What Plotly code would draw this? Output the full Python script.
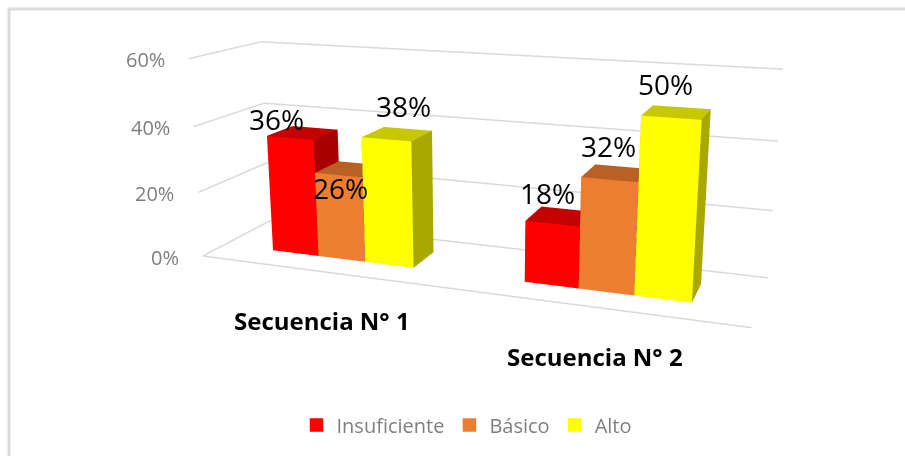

import plotly.graph_objects as go

categories = ["Secuencia N° 1", "Secuencia N° 2"]
series_names = ["Insuficiente", "Básico", "Alto"]
insuficiente = [0.36, 0.18]
basico = [0.26, 0.32]
alto = [0.38, 0.50]
z_ticks = [0, 0.2, 0.4, 0.6]

series_values = [insuficiente, basico, alto]
front = ["#ff0000", "#ed7d31", "#ffff00"]
top = ["#c40000", "#b96024", "#c8c800"]
side = ["#a80000", "#a05020", "#a8a800"]

BAR_W, Y0, Y1 = 0.193, 0.3095, 0.6973
# oversized canvas gives the long lens of the original; the page crops it to 905x456
LW, LH, TOP = 965, 898, 263
def px(x): return x / LW
def py(y): return 1 - (y + TOP) / LH

fig = go.Figure()

# gridlines on the left and back walls, and the front floor edge
gx, gy, gz = [], [], []
for t in z_ticks:
    gx += [0, 0, 2, None]; gy += [0, 1, 1, None]; gz += [t, t, t, None]
gx += [0, 2]; gy += [0, 0]; gz += [0, 0]
fig.add_trace(go.Scatter3d(x=gx, y=gy, z=gz, mode="lines", showlegend=False, hoverinfo="skip",
                           line=dict(color="#d9d9d9", width=3)))

for s, (name, vals) in enumerate(zip(series_names, series_values)):
    xs, ys, zs, I, J, K, fc = [], [], [], [], [], [], []
    for c, v in enumerate(vals):
        x0 = c + 0.5 + (s - 1.5) * BAR_W
        x1 = x0 + BAR_W
        n = len(xs)
        for zz in (0, v):
            for yy, xa, xb in ((Y0, x0, x1), (Y1, x1, x0)):
                xs += [xa, xb]; ys += [yy, yy]; zs += [zz, zz]
        faces = [((0, 1, 5), front[s]), ((0, 5, 4), front[s]),
                 ((1, 2, 6), side[s]), ((1, 6, 5), side[s]),
                 ((4, 5, 6), top[s]), ((4, 6, 7), top[s]),
                 ((3, 0, 4), side[s]), ((3, 4, 7), side[s]),
                 ((2, 3, 7), side[s]), ((2, 7, 6), side[s])]
        for (a, b, d), col in faces:
            I.append(n + a); J.append(n + b); K.append(n + d); fc.append(col)
    fig.add_trace(go.Mesh3d(
        x=xs, y=ys, z=zs, i=I, j=J, k=K, facecolor=fc, flatshading=True,
        lighting=dict(ambient=1, diffuse=0, specular=0, fresnel=0, roughness=1),
        hoverinfo="skip", name=name, showlegend=False))
    fig.add_trace(go.Scatter3d(
        x=[None], y=[None], z=[None], mode="markers", name=name,
        marker=dict(symbol="square", size=13.5, color=front[s]), hoverinfo="skip"))

label_shift = {(0, 0): (-26, 14), (1, 0): (-10, -19), (2, 0): (6, 28),
               (0, 1): (-13, 23), (1, 1): (-8, 27), (2, 1): (-11, 28)}
ann = []
for s, vals in enumerate(series_values):
    for c, v in enumerate(vals):
        dx, dy = label_shift[(s, c)]
        ann.append(dict(x=c + 0.5 + (s - 1) * BAR_W, y=0.5, z=v, text=f"{v:.0%}",
                        showarrow=False, xshift=dx, yshift=dy,
                        font=dict(family="Open Sans", size=28, color="#000000")))
for c, name in enumerate(categories):
    ann.append(dict(x=c + 0.5, y=0, z=0, text=f"<b>{name}</b>", showarrow=False,
                    xshift=0, yshift=-49,
                    font=dict(family="Open Sans", size=24, color="#000000")))
for t in z_ticks:
    ann.append(dict(x=0, y=0, z=t, text=f"{t:.0%}", showarrow=False, xanchor="right",
                    xshift=-22, yshift=-1,
                    font=dict(family="Open Sans", size=20, color="#7f7f7f")))

hidden = dict(showgrid=False, showticklabels=False, ticks="", title=dict(text=""),
              showbackground=False, showspikes=False, zeroline=False, showline=False)
fig.update_layout(
    width=LW, height=LH, margin=dict(l=0, r=0, t=0, b=0, pad=0),
    paper_bgcolor="white",
    font=dict(family="Open Sans"),
    scene=dict(
        domain=dict(x=[0, 1], y=[0, 1]),
        bgcolor="rgba(0,0,0,0)",
        aspectmode="manual", aspectratio=dict(x=1.4, y=0.337, z=0.5162),
        camera=dict(eye=dict(x=0.9071, y=-2.4323, z=0.6541),
                    center=dict(x=0.0232, y=-0.0239, z=-0.0385),
                    up=dict(x=0.0007, y=0.0019, z=1),
                    projection=dict(type="perspective")),
        xaxis=dict(hidden, range=[0, 2]),
        yaxis=dict(hidden, range=[0, 1]),
        zaxis=dict(hidden, range=[0, 0.6], tickvals=z_ticks),
        annotations=ann,
    ),
    legend=dict(orientation="h", x=px(467), y=py(425), xanchor="center", yanchor="middle",
                font=dict(family="Open Sans", size=20, color="#7f7f7f"),
                bgcolor="rgba(0,0,0,0)"),
    shapes=[dict(type="rect", xref="paper", yref="paper", x0=px(9), x1=1.2,
                 y0=-0.2, y1=py(9), line=dict(color="#dcdcdc", width=3), layer="below")],
)
crop = ("document.documentElement.style.overflow='hidden';"
        "document.body.style.overflow='hidden';document.body.style.margin='0';"
        "var g=document.querySelector('.plotly-graph-div');"
        f"g.style.position='fixed';g.style.left='0px';g.style.top='-{TOP}px';")
fig.write_html("out.html", config=dict(displayModeBar=False), post_script=crop)
